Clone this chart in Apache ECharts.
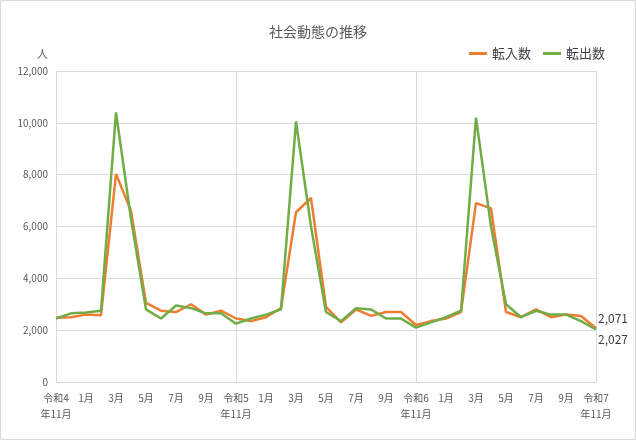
<!DOCTYPE html>
<html><head><meta charset="utf-8">
<script src="https://cdn.jsdelivr.net/npm/echarts@6/dist/echarts.min.js"></script>
<style>html,body{margin:0;padding:0;background:#fff}#main{width:636px;height:440px}</style>
</head><body><div id="main"></div>
<script>
// months from 令和4年11月 to 令和7年11月
const months = [
  "令和4\n年11月","12月","1月","2月","3月","4月","5月","6月","7月","8月","9月","10月",
  "令和5\n年11月","12月","1月","2月","3月","4月","5月","6月","7月","8月","9月","10月",
  "令和6\n年11月","12月","1月","2月","3月","4月","5月","6月","7月","8月","9月","10月",
  "令和7\n年11月"
];
const tennyu = [2480,2500,2600,2580,8030,6600,3050,2750,2700,3000,2600,2750,
  2450,2350,2500,2850,6550,7100,2900,2300,2800,2550,2700,2700,
  2200,2350,2450,2700,6900,6700,2700,2500,2800,2500,2600,2550,2071];
const tenshutsu = [2450,2650,2680,2750,10400,6300,2800,2450,2950,2850,2650,2650,
  2250,2450,2600,2800,10050,6000,2700,2350,2850,2800,2450,2450,
  2100,2300,2500,2750,10200,6000,3000,2500,2750,2600,2600,2350,2027];

const chart = echarts.init(document.getElementById("main"));
const font = "'Noto Sans CJK JP', sans-serif";
const endLabel = (dy) => ({
  show: true, color: "#404040", fontSize: 12, fontFamily: font, distance: 2, offset: [0, dy],
  formatter: (p) => p.value.toLocaleString("en-US")
});
chart.setOption({
  animation: false,
  textStyle: { fontFamily: font },
  graphic: [{ type: "rect", shape: { x: 0.5, y: 0.5, width: 635, height: 439 },
    style: { fill: "none", stroke: "#d9d9d9" } }],
  title: { text: "社会動態の推移", left: "center", top: 20,
    textStyle: { fontSize: 14, fontWeight: "normal", color: "#595959" } },
  legend: { right: 26, top: 42, itemWidth: 18, itemHeight: 3, itemGap: 12, icon: "rect",
    textStyle: { fontSize: 13, color: "#404040" } },
  grid: { left: 56, right: 40, top: 71, bottom: 58 },
  xAxis: {
    type: "category", boundaryGap: false, data: months,
    axisLine: { lineStyle: { color: "#d9d9d9" } }, axisTick: { show: false },
    axisLabel: { interval: 1, color: "#595959", fontSize: 10, lineHeight: 16 },
    splitLine: { show: true, interval: (i) => i % 12 === 0, lineStyle: { color: "#d9d9d9" } }
  },
  yAxis: {
    type: "value", min: 0, max: 12000, interval: 2000, name: "人",
    nameLocation: "end", nameGap: 12, nameTextStyle: { color: "#595959", fontSize: 11, align: "right", padding: [0, 8, 0, 0] },
    axisLine: { show: false }, axisTick: { show: false },
    axisLabel: { color: "#595959", fontSize: 10, formatter: (v) => v.toLocaleString("en-US") },
    splitLine: { lineStyle: { color: "#d9d9d9" } }
  },
  series: [
    { name: "転入数", type: "line", data: tennyu, symbol: "none", color: "#ed7d31",
      lineStyle: { width: 2.5 }, endLabel: endLabel(-10) },
    { name: "転出数", type: "line", data: tenshutsu, symbol: "none", color: "#70ad47",
      lineStyle: { width: 2.5 }, endLabel: endLabel(10) }
  ]
});
</script></body></html>
